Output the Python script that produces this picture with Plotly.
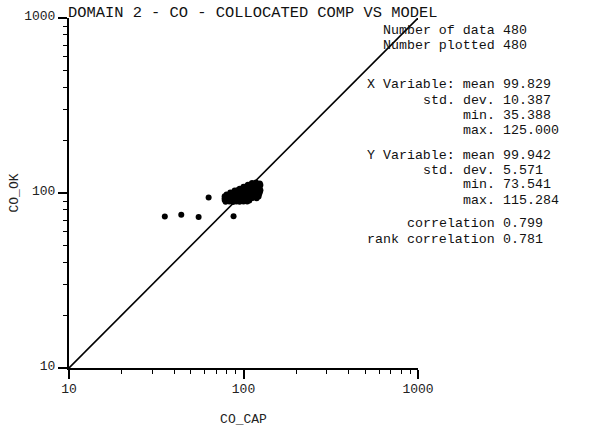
import plotly.graph_objects as go

# ---- data ----
co_cap = [
    # outliers
    35.4, 44.0, 55.3, 87.7, 63.1,
    # main cloud
    112, 118, 124,
    106, 111, 116, 121, 125,
    100, 104, 109, 114, 119, 124,
    95, 99, 104, 108, 113, 118, 123,
    89, 93, 97, 101, 106, 111, 116, 121, 125,
    84, 88, 92, 96, 100, 105, 110, 115, 120, 124,
    80, 84, 88, 92, 96, 100, 104, 109, 114, 119, 123,
    78, 82, 86, 90, 94, 98, 102, 107, 112, 118,
    78, 82, 86, 90, 94, 98, 102, 107, 113, 119, 122,
    78, 81, 85, 89, 93, 97, 102, 108,
    79, 83, 87, 91, 95, 100, 105,
]
co_ok = [
    73.5, 75.1, 73.0, 73.6, 94.4,
    114.2, 115.0, 113.5,
    111.5, 112.4, 111.8, 112.6, 111.2,
    108.6, 109.4, 108.9, 109.6, 108.7, 109.2,
    105.8, 106.4, 105.9, 106.7, 106.1, 105.6, 106.3,
    103.2, 103.9, 103.4, 104.0, 103.1, 103.7, 103.3, 104.1, 103.6,
    100.7, 101.4, 100.9, 101.6, 101.1, 100.6, 101.3, 100.8, 101.5, 100.9,
    98.1, 98.8, 98.4, 99.0, 98.2, 98.7, 98.3, 98.9, 98.5, 98.0, 98.6,
    95.8, 96.4, 96.0, 96.6, 95.9, 96.3, 95.7, 96.5, 96.1, 95.6,
    93.2, 93.8, 93.4, 94.0, 93.1, 93.7, 93.3, 93.9, 93.5, 93.2, 95.6,
    91.2, 90.7, 91.4, 90.9, 91.3, 90.8, 91.1, 90.6,
    89.1, 89.4, 88.9, 89.3, 89.0, 89.4, 89.5,
]
diag = [10, 1000]
x_major = [10, 100, 1000]
x_major_text = ["10", "100", "1000"]
minor_vals = [20, 30, 40, 50, 60, 70, 80, 90, 200, 300, 400, 500, 600, 700, 800, 900]

title_text = "DOMAIN 2 - CO - COLLOCATED COMP VS MODEL"
x_title = "CO_CAP"
y_title = "CO_OK"

stat_labels = ["Number of data", "Number plotted",
               "X Variable: mean", "std. dev.", "min.", "max.",
               "Y Variable: mean", "std. dev.", "min.", "max.",
               "correlation", "rank correlation"]
stat_values = ["480", "480",
               "99.829", "10.387", "35.388", "125.000",
               "99.942", "5.571", "73.541", "115.284",
               "0.799", "0.781"]
# vertical pixel positions of the stats lines
stat_rows_px = [30.5, 45.5, 85, 100, 115, 130, 155, 170, 185, 200, 224, 239]

# ---- layout geometry ----
W, H = 589, 431
L, R, T, B = 69, 171, 18, 63
PW, PH = W - L - R, H - T - B
MONO = "Liberation Mono, Courier New, monospace"

def px_to_paper_x(px):
    return (px - L) / PW

def px_to_paper_y(py):
    return (H - B - py) / PH

fig = go.Figure()
fig.add_trace(go.Scatter(x=diag, y=diag, mode="lines",
                         line=dict(color="black", width=1.6),
                         hoverinfo="skip", showlegend=False))
fig.add_trace(go.Scatter(x=co_cap, y=co_ok, mode="markers",
                         marker=dict(color="black", size=6, line=dict(width=0)),
                         showlegend=False))

annotations = []
for lab, val, py in zip(stat_labels, stat_values, stat_rows_px):
    annotations.append(dict(text=lab, xref="paper", yref="paper",
                            x=px_to_paper_x(496), y=px_to_paper_y(py),
                            xanchor="right", yanchor="middle", showarrow=False,
                            borderpad=0,
                            font=dict(family=MONO, size=13.3, color="#111")))
    annotations.append(dict(text=val, xref="paper", yref="paper",
                            x=px_to_paper_x(502), y=px_to_paper_y(py),
                            xanchor="left", yanchor="middle", showarrow=False,
                            borderpad=0,
                            font=dict(family=MONO, size=13.3, color="#111")))

axis_common = dict(
    type="log", range=[1, 3],
    tickvals=x_major, ticktext=x_major_text,
    ticks="outside", ticklen=9, tickwidth=1.5, tickcolor="black",
    minor=dict(tickvals=minor_vals, ticks="outside", ticklen=4,
               tickwidth=1.3, tickcolor="black", showgrid=False),
    showline=True, linecolor="black", linewidth=2,
    showgrid=False, zeroline=False, mirror=False,
    tickfont=dict(family=MONO, size=13, color="#222"),
    automargin=False,
)

fig.update_layout(
    width=W, height=H,
    margin=dict(l=L, r=R, t=T, b=B),
    paper_bgcolor="white", plot_bgcolor="white",
    title=dict(text=title_text, x=68 / W, xref="container",
               xanchor="left", y=1 - 12 / H, yref="container", yanchor="middle",
               font=dict(family=MONO, size=15.4, color="#111")),
    xaxis=dict(**axis_common, ticklabelstandoff=-2,
               title=dict(text=x_title, standoff=18,
                          font=dict(family=MONO, size=13, color="#222"))),
    yaxis=dict(**axis_common, ticklabelshift=-3, ticklabelstandoff=0,
               title=dict(text=y_title, standoff=3,
                          font=dict(family=MONO, size=13, color="#222"))),
    annotations=annotations,
)

fig.write_html("out.html",
               config={"displayModeBar": False},
               post_script="document.body.style.margin='0px';document.body.style.overflow='hidden';")
